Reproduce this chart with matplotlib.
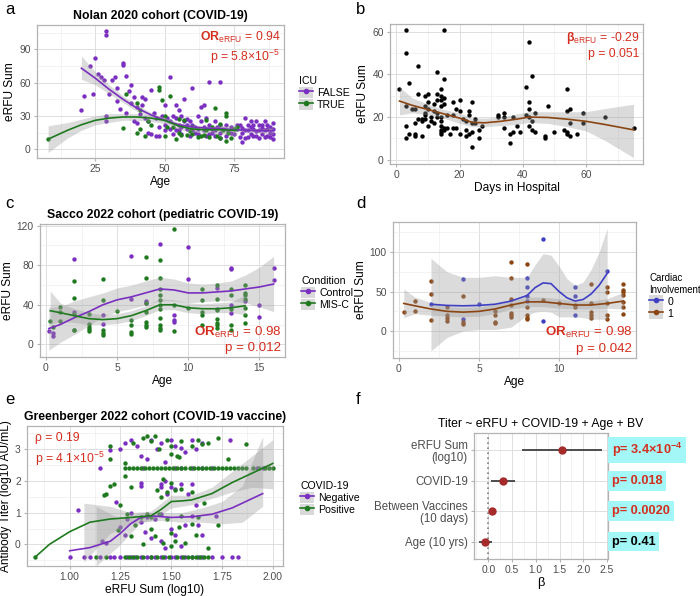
import numpy as np
import matplotlib
matplotlib.use("Agg")
from matplotlib import pyplot as plt
from matplotlib.lines import Line2D
from matplotlib.patches import Patch
from matplotlib.ticker import AutoMinorLocator

plt.rcParams['font.family'] = ['Liberation Sans', 'DejaVu Sans']
plt.rcParams['mathtext.fontset'] = 'custom'
plt.rcParams['mathtext.rm'] = 'Liberation Sans'
plt.rcParams['mathtext.it'] = 'Liberation Sans:italic'
plt.rcParams['mathtext.bf'] = 'Liberation Sans:bold'

PURPLE = "#7A2FC0"
GREEN = "#1F7A1F"
BROWN = "#8B4513"
BLUE = "#3F3FC4"
RED = "#D42E1F"

# ---- panel a: Nolan 2020 (age vs eRFU, ICU) ----
a_false_age = [20, 21, 23, 24, 25, 26, 27, 28, 29, 29, 29, 29, 30, 31, 32, 33, 33, 34, 35, 35, 36, 36, 37, 38, 38, 39, 39,
               40, 40, 41, 42, 42, 43, 43, 44, 44, 45, 46, 47, 47, 48, 49, 50, 50, 51, 52, 52, 53, 53, 54, 54, 55, 55, 55,
               56, 56, 57, 57, 58, 58, 59, 59, 60, 60, 61, 61, 62, 62, 63, 63, 64, 64, 65, 65, 66, 66, 67, 67, 68, 68, 69,
               70, 70, 70, 71, 72, 72, 73, 74, 75, 76, 77, 77, 78, 78, 79, 79, 80, 80, 81, 81, 82, 82, 83, 83, 84, 84, 85,
               85, 86, 86, 87, 87, 88, 88, 89, 89, 89, 89, 45, 48, 50, 52, 54, 56, 58, 60, 62, 64, 66, 68, 70, 74, 76, 78,
               80, 82, 84, 86, 88, 85, 87, 79, 81, 83]
a_false_erfu = [35, 48, 75, 50, 82, 68, 65, 62, 107, 103, 30, 25, 50, 62, 65, 55, 43, 36, 78, 76, 66, 33, 52, 58, 42, 47, 25,
                24, 38, 32, 40, 47, 45, 28, 25, 15, 53, 33, 12, 28, 12, 30, 40, 22, 28, 65, 18, 30, 14, 40, 28, 35, 22, 17,
                30, 20, 45, 25, 27, 18, 25, 12, 55, 22, 20, 15, 30, 18, 38, 25, 40, 20, 12, 28, 61, 22, 18, 15, 25, 12, 20,
                61, 22, 15, 18, 12, 22, 16, 20, 14, 18, 11, 22, 6, 15, 10, 28, 22, 17, 14, 20, 18, 12, 25, 16, 22, 10, 19,
                14, 25, 17, 22, 12, 15, 20, 9, 24, 14, 18, 14, 20, 17, 25, 17, 14, 22, 17, 14, 17, 14, 17, 10, 15, 22, 19,
                11, 22, 17, 11, 11, 22, 18, 17, 25, 12]
a_true_age = [8, 35, 36, 40, 40, 41, 41, 43, 44, 45, 48, 48, 49, 50, 50, 51, 52, 53, 54, 55, 56, 57, 58, 59, 60, 62, 63, 64,
              65, 66, 67, 68, 69, 70, 71, 72, 72, 72, 73, 74, 75, 76, 70, 65, 55, 60]
a_true_erfu = [9, 19, 50, 15, 42, 35, 18, 12, 25, 22, 56, 53, 44, 12, 30, 20, 48, 20, 9, 15, 13, 26, 13, 16, 20, 11, 12, 13,
               17, 11, 20, 37, 12, 10, 17, 30, 33, 7, 15, 10, 18, 20, 23, 26, 27, 14]
a_fit_false_x = [20, 25, 30, 35, 40, 45, 50, 55, 60, 65, 70, 75, 80, 85, 89]
a_fit_false_y = [73, 64, 54, 45, 37, 31, 26, 22, 20, 19, 18.5, 17.5, 17, 16.5, 16.5]
a_fit_false_lo = [63, 58, 50, 42, 34, 29, 24, 20.5, 18.5, 17.5, 17, 16, 15.5, 14.5, 13]
a_fit_false_hi = [84, 70, 58, 48, 40, 33, 28, 23.5, 21.5, 20.5, 20, 19, 18.5, 18.5, 20]
a_fit_true_x = [8, 15, 20, 25, 30, 35, 40, 45, 50, 55, 60, 65, 70, 76]
a_fit_true_y = [9, 17, 22, 26, 28, 29, 29, 28, 26, 21, 18, 17.5, 17.5, 17]
a_fit_true_lo = [-3, 10, 17, 22, 24, 26, 26, 25, 23, 18, 15, 14.5, 14, 12]
a_fit_true_hi = [21, 24, 27, 30, 32, 32, 32, 31, 29, 24, 21, 20.5, 21, 22]

# ---- panel b: days in hospital ----
b_days = [1, 3, 3, 3, 3, 3, 4, 4, 5, 6, 6, 6, 6, 7, 7, 7, 8, 8, 8, 9, 9, 9, 9, 9, 10, 10, 10, 10, 11, 11, 12, 12, 12,
          13, 13, 13, 13, 13, 14, 14, 14, 14, 14, 14, 14, 14, 14, 14, 15, 15, 15, 15, 15, 15, 16, 16, 17, 18, 18, 18,
          19, 19, 20, 20, 20, 21, 22, 22, 22, 23, 23, 23, 24, 24, 24, 24, 25, 25, 26, 26, 27, 32, 32, 34, 34, 34, 36,
          36, 37, 37, 38, 39, 41, 41, 42, 42, 42, 42, 42, 43, 43, 43, 44, 44, 47, 47, 48, 50, 53, 54, 54, 54, 54, 55,
          55, 55, 57, 59, 59, 66, 75]
b_erfu = [33, 61, 50, 25, 16, 10, 36, 12, 24, 24, 12, 11, 17, 44, 31, 19, 18, 11, 19, 30, 25, 22, 19, 21, 31, 27, 24,
          16, 18, 20, 23, 26, 17, 41, 31, 20, 28, 22, 33, 30, 28, 25, 20, 18, 16, 14, 12, 13, 61, 38, 29, 26, 15, 14,
          21, 15, 12, 27, 21, 15, 24, 15, 28, 23, 12, 19, 18, 14, 11, 23, 21, 12, 27, 17, 13, 6, 19, 17, 14, 10, 16,
          21, 20, 22, 15, 20, 8, 12, 13, 20, 16, 13, 34, 21, 55, 27, 24, 20, 16, 39, 18, 14, 13, 22, 11, 10, 25, 13,
          14, 33, 23, 13, 12, 24, 17, 11, 12, 22, 17, 20, 15]
b_fit_x = [1, 5, 10, 15, 20, 24, 28, 33, 38, 42, 48, 54, 60, 66, 75]
b_fit_y = [27.5, 25.5, 23.5, 21.5, 19.5, 17.5, 17.3, 18, 19, 20, 19.8, 19, 18, 16.5, 14]
b_fit_lo = [21, 22, 21, 19.5, 17, 15.5, 15.5, 16, 16.5, 17.5, 17, 15.5, 13.5, 9, 1]
b_fit_hi = [34, 29, 26, 23.5, 22, 19.5, 19.5, 20, 21.5, 22.5, 22.5, 22.5, 22.5, 24, 26]

# ---- panel c: Sacco 2022 ----
c_ctrl_age = [0.2, 0.5, 0.5, 2, 2, 4, 4, 6, 6, 7, 7, 8, 9, 9, 9, 10, 10, 12, 12, 13, 13, 13, 13, 14, 15, 15, 16, 16]
c_ctrl_erfu = [13, 11, 8, 86, 33, 30, 21, 89, 46, 42, 44, 101, 30, 25, 23, 98, 66, 57, 36, 77, 76, 40, 32, 44, 40, 28, 77, 65]
c_misc_age = [0.3, 0.5, 1, 1, 1, 2, 2, 2, 2, 2, 3, 3, 3, 3, 3, 4, 4, 4, 4, 4, 5, 6, 6, 6, 6, 7, 7, 7, 7, 7, 7, 7, 8, 8, 8,
              8, 8, 8, 8, 8, 8, 8, 8, 9, 9, 9, 10, 11, 11, 11, 11, 11, 12, 12, 12, 12, 12, 12, 12, 13, 13, 13, 13, 13,
              14, 14, 14, 14, 14, 14, 14]
c_misc_erfu = [24, 18, 38, 33, 24, 64, 47, 31, 15, 14, 31, 21, 18, 16, 13, 66, 45, 14, 11, 9, 34, 25, 20, 12, 10, 88, 67,
               42, 33, 23, 20, 18, 85, 67, 56, 50, 45, 40, 36, 27, 20, 17, 15, 117, 40, 13, 37, 56, 45, 33, 30, 20, 60,
               46, 35, 26, 22, 20, 17, 56, 50, 36, 20, 15, 60, 52, 50, 46, 37, 30, 22]
c_fit_ctrl_x = [0.2, 1, 2, 3, 4, 5, 6, 7, 8, 9, 10, 11, 12, 13, 14, 15, 16]
c_fit_ctrl_y = [16, 20, 27, 33, 40, 45, 48, 52, 56, 55, 52, 52, 53, 54, 56, 58, 61]
c_fit_ctrl_lo = [-6, 2, 10, 19, 28, 33, 36, 40, 44, 44, 42, 43, 44, 44, 42, 38, 33]
c_fit_ctrl_hi = [38, 38, 44, 48, 52, 57, 60, 64, 68, 66, 62, 61, 62, 64, 70, 78, 89]
c_fit_misc_x = [0.3, 1, 2, 3, 4, 5, 6, 7, 8, 9, 10, 11, 12, 13, 14]
c_fit_misc_y = [34, 32, 29, 26, 25, 26, 29, 34, 40, 40, 37, 36, 36, 37, 39]
c_fit_misc_lo = [20, 23, 22, 20, 20, 21, 24, 29, 35, 35, 32, 31, 32, 32, 30]
c_fit_misc_hi = [54, 42, 36, 32, 30, 31, 34, 39, 46, 45, 42, 41, 42, 43, 50]

# ---- panel d: cardiac involvement ----
d_no_age = [2, 4, 4, 5, 8, 8, 8, 8, 9, 9, 11, 11, 11, 13]
d_no_erfu = [34, 66, 15, 34, 67, 56, 44, 38, 117, 13, 56, 45, 20, 76]
d_yes_age = [0.3, 1, 1, 2, 2, 2, 3, 3, 3, 3, 4, 4, 4, 6, 6, 6, 6, 7, 7, 7, 7, 7, 7, 7, 8, 8, 8, 8, 8, 9, 10, 11, 11,
             12, 12, 12, 12, 12, 13, 13, 13, 13, 13, 14, 14, 14, 14, 14, 14, 14]
d_yes_erfu = [24, 38, 25, 64, 47, 14, 31, 21, 16, 13, 45, 12, 9, 25, 20, 12, 10, 88, 67, 40, 33, 23, 20, 18, 85, 30, 20,
              17, 15, 39, 36, 33, 30, 60, 36, 24, 20, 17, 56, 50, 36, 21, 15, 60, 52, 50, 46, 37, 30, 22]
d_fit_no_x = [2, 3, 4, 5, 6, 7, 8, 8.5, 9, 9.5, 10, 10.5, 11, 11.5, 12, 12.5, 13]
d_fit_no_y = [34, 32.5, 32, 32.5, 34, 38, 45, 55, 61, 60, 50, 42, 38, 40, 47, 58, 73]
d_fit_no_lo = [-25, -8, 0, 2, 2, 5, 20, 24, 25, 24, 18, 18, 18, 17, 15, 15, 15]
d_fit_no_hi = [92, 75, 68, 68, 70, 68, 68, 84, 98, 96, 82, 66, 58, 62, 78, 100, 130]
d_fit_yes_x = [0.3, 1, 2, 3, 4, 5, 6, 7, 8, 9, 10, 11, 12, 13, 14]
d_fit_yes_y = [35, 32, 28, 25, 24, 25, 28, 33, 37, 37, 35, 33, 33, 35, 38]
d_fit_yes_lo = [17, 22, 20, 19, 18, 19, 22, 28, 31, 31, 29, 28, 28, 29, 28]
d_fit_yes_hi = [53, 43, 36, 31, 30, 31, 34, 38, 43, 43, 41, 38, 38, 41, 49]

# ---- panel e: Greenberger 2022 ----
e_neg_x = [1.0, 1.07, 1.1, 1.15, 1.2, 1.22, 1.25, 1.28, 1.3, 1.32, 1.35, 1.38, 1.4, 1.42, 1.45, 1.47, 1.5, 1.52, 1.55,
           1.57, 1.6, 1.63, 1.65, 1.7, 1.75, 1.8, 1.83,
           1.15, 1.36, 1.52, 1.55, 1.6, 1.65, 1.7, 1.92, 1.95,
           1.2, 1.25, 1.27, 1.3, 1.33, 1.35, 1.38, 1.4, 1.43, 1.45, 1.47, 1.5, 1.52, 1.55, 1.57, 1.6, 1.62, 1.65, 1.79,
           1.35, 1.35, 1.45, 1.45, 1.47, 1.48, 1.5, 1.52, 1.55, 1.23, 1.58, 1.6, 1.62,
           1.04, 1.16, 1.18, 1.25, 1.28, 1.3, 1.35, 1.37, 1.4, 1.42, 1.45, 1.47, 1.5, 1.52, 1.55, 1.57, 1.6, 1.63, 1.65,
           1.72, 1.27, 1.45, 1.38]
e_neg_y = [-0.4] * 27 + [2.4] * 9 + \
          [2.97, 3.0, 3.2, 3.3, 3.1, 2.8, 2.7, 3.3, 3.0, 3.2, 2.6, 3.3, 3.1, 3.05, 2.9, 3.3, 3.0, 3.2, 3.3,
           1.85, 1.95, 1.8, 1.9, 2.0, 1.6, 1.8, 1.75, 1.9, 1.35, 1.6, 1.9, 1.25,
           1.07, 0.12, 0.06, 0.55, 0.8, 1.0, 0.7, 0.4, 0.2, 0.8, 0.1, -0.1, 0.5, 0.3, -0.05, 0.6, 0.9, 0.6, 0.3,
           0.9, 0.3, 0.95, 0.85]
e_pos_x = [0.83, 1.13, 1.18, 1.27, 1.29, 1.31, 1.33, 1.36, 1.4, 1.43, 1.46, 1.49, 1.53, 1.56, 1.58, 1.6, 1.62, 1.64,
           1.66, 1.68,
           1.27, 1.29, 1.31, 1.33, 1.35, 1.37, 1.39, 1.41, 1.43, 1.45, 1.47, 1.49, 1.51, 1.53, 1.55, 1.57, 1.59, 1.61,
           1.63, 1.65, 1.67, 1.69, 1.71, 1.73, 1.75, 1.77, 1.79, 1.81, 1.83, 1.85, 1.87, 1.9, 1.93, 1.96, 1.98, 2.0,
           1.2, 1.2, 1.27, 1.31, 1.36, 1.38, 1.4, 1.42, 1.44, 1.48, 1.5, 1.53, 1.55, 1.6, 1.63, 1.65, 1.68, 1.73, 1.78,
           1.87, 1.54, 1.5,
           1.18, 1.2, 1.22, 1.25, 1.27, 1.3, 1.43, 1.45, 1.46, 1.48, 1.5, 1.52, 1.55, 1.6, 1.66, 1.17,
           1.24, 1.28, 1.32, 1.35, 1.38, 1.4, 1.42, 1.44, 1.46, 1.48, 1.5, 1.52, 1.54, 1.57, 1.6, 1.62, 1.63, 1.68,
           1.73, 1.3, 1.36, 1.5, 1.55, 1.4]
e_pos_y = [-0.4] * 20 + [2.4] * 36 + \
          [3.1, 2.7, 2.55, 3.2, 3.35, 3.4, 3.25, 3.4, 3.0, 3.3, 3.1, 2.8, 3.25, 3.1, 3.3, 3.15, 3.2, 3.35, 2.7,
           3.15, 2.75, 2.85,
           1.6, 1.85, 1.9, 1.25, 2.15, 1.8, 1.7, 1.5, 2.05, 1.65, 1.95, 1.7, 1.75, 1.65, 1.3, 1.55,
           0.45, 0.95, 0.6, 0.85, 0.95, 0.5, 0.25, 0.95, 0.05, 0.8, 0.35, 0.1, 0.55, 0.05, 0.65, 0.3, 0.85, -0.1,
           0.6, 0.25, 0.0, -0.05, 0.9, 0.85]
e_fit_pos_x = [0.83, 0.9, 1.0, 1.1, 1.2, 1.3, 1.4, 1.45, 1.5, 1.55, 1.6, 1.7, 1.8, 1.9, 2.0]
e_fit_pos_y = [-0.4, 0.0, 0.4, 0.7, 0.8, 0.85, 0.9, 1.1, 1.35, 1.37, 1.4, 1.6, 1.95, 2.25, 2.55]
e_band_pos_x = [1.07, 1.2, 1.3, 1.4, 1.5, 1.6, 1.7, 1.8, 1.9, 2.0]
e_band_pos_lo = [-0.55, 0.35, 0.65, 0.75, 1.15, 1.25, 1.45, 1.65, 1.8, 1.75]
e_band_pos_hi = [1.3, 1.2, 1.0, 1.05, 1.55, 1.55, 1.8, 2.3, 2.8, 3.3]
e_fit_neg_x = [1.0, 1.1, 1.2, 1.25, 1.3, 1.35, 1.4, 1.5, 1.6, 1.7, 1.8, 1.9, 1.95]
e_fit_neg_y = [-0.2, -0.1, 0.1, 0.35, 0.65, 0.85, 0.9, 0.85, 0.87, 0.95, 1.15, 1.45, 1.6]
e_band_neg_x = [1.13, 1.25, 1.35, 1.45, 1.55, 1.65, 1.75, 1.85, 1.95]
e_band_neg_lo = [-0.68, 0.0, 0.7, 0.75, 0.7, 0.7, 0.65, 0.7, 1.2]
e_band_neg_hi = [1.2, 0.8, 1.0, 1.0, 1.0, 1.15, 1.35, 1.85, 3.4]

# ---- panel f: regression coefficients ----
f_terms = ["Age (10 yrs)", "Between Vaccines\n(10 days)", "COVID-19", "eRFU Sum\n(log10)"]
f_beta = [-0.07, 0.07, 0.32, 1.55]
f_lo = [-0.2, 0.04, 0.05, 0.72]
f_hi = [0.08, 0.1, 0.57, 2.4]
f_pvals = [r"p= 0.41", r"p= 0.0020", r"p= 0.018", r"p= 3.4×10$^{\mathbf{-4}}$"]
f_pcolors = ["black", RED, RED, RED]

W, H = 700, 596
TICK = 7.4
LAB = 8.6
TITLE = 8.8
ANN = 8.8
ANN_BIG = 9.6
LEG = 7.6

fig = plt.figure(figsize=(7, 5.96), dpi=100)


def add_ax(x0, y0, x1, y1):
    return fig.add_axes([x0 / W, 1 - y1 / H, (x1 - x0) / W, (y1 - y0) / H])


def style(ax):
    ax.set_facecolor("white")
    for s in ax.spines.values():
        s.set_color("#B3B3B3")
        s.set_linewidth(0.9)
    ax.xaxis.set_minor_locator(AutoMinorLocator(2))
    ax.yaxis.set_minor_locator(AutoMinorLocator(2))
    ax.grid(which="major", color="#DEDEDE", linewidth=0.7)
    ax.grid(which="minor", color="#EEEEEE", linewidth=0.5)
    ax.set_axisbelow(True)
    ax.tick_params(which="major", length=2.5, color="#B3B3B3", labelsize=TICK, labelcolor="#4D4D4D", pad=2)
    ax.tick_params(which="minor", length=0)


def band(ax, x, lo, hi):
    ax.fill_between(x, lo, hi, color="#999999", alpha=0.35, linewidth=0, zorder=3)


def legend(title, labels, colors, x, y, title_size=LEG):
    handles = [(Patch(facecolor="#D9D9D9", edgecolor="none"),
                Line2D([], [], color=c, lw=1.2, marker="o", ms=3)) for c in colors]
    leg = fig.legend(handles, labels, title=title, loc="upper left", bbox_to_anchor=(x / W, 1 - y / H),
                     frameon=False, fontsize=LEG, title_fontsize=title_size, handlelength=1.3, handleheight=1.3,
                     labelspacing=0.05, borderpad=0, handletextpad=0.4, alignment="left")
    return leg


# panel a
ax = add_ax(37, 25, 284, 158)
style(ax)
ax.scatter(a_false_age, a_false_erfu, s=10, color=PURPLE, lw=0, zorder=2)
ax.scatter(a_true_age, a_true_erfu, s=10, color=GREEN, lw=0, zorder=2)
band(ax, a_fit_false_x, a_fit_false_lo, a_fit_false_hi)
band(ax, a_fit_true_x, a_fit_true_lo, a_fit_true_hi)
ax.plot(a_fit_false_x, a_fit_false_y, color=PURPLE, lw=1.2, zorder=4)
ax.plot(a_fit_true_x, a_fit_true_y, color=GREEN, lw=1.2, zorder=4)
ax.set_xlim(4, 93)
ax.set_ylim(-8, 112)
ax.set_xticks([25, 50, 75])
ax.set_yticks([0, 30, 60, 90])
ax.set_xlabel("Age", fontsize=LAB, labelpad=1)
ax.set_ylabel("eRFU Sum", fontsize=LAB, labelpad=2)
ax.set_title("Nolan 2020 cohort (COVID-19)", fontsize=TITLE, fontweight="bold", pad=4)
ax.text(0.985, 0.96, r"$\mathbf{OR}_{\mathrm{eRFU}}$ = 0.94", transform=ax.transAxes, ha="right", va="top",
        color=RED, fontsize=ANN)
ax.text(0.985, 0.83, r"p = 5.8×10$^{-5}$", transform=ax.transAxes, ha="right", va="top", color=RED, fontsize=ANN)
legend("ICU", ["FALSE", "TRUE"], [PURPLE, GREEN], 294, 71)

# panel b
ax = add_ax(390, 24, 643, 164)
style(ax)
ax.scatter(b_days, b_erfu, s=10, color="black", lw=0, zorder=2)
band(ax, b_fit_x, b_fit_lo, b_fit_hi)
ax.plot(b_fit_x, b_fit_y, color=BROWN, lw=1.2, zorder=4)
ax.set_xlim(-2, 78)
ax.set_ylim(-2, 63.6)
ax.set_xticks([0, 20, 40, 60])
ax.set_yticks([0, 20, 40, 60])
ax.set_xlabel("Days in Hospital", fontsize=LAB, labelpad=1)
ax.set_ylabel("eRFU Sum", fontsize=LAB, labelpad=2)
ax.text(0.985, 0.96, r"$\mathbf{β}_{\mathrm{eRFU}}$ = -0.29", transform=ax.transAxes, ha="right", va="top",
        color=RED, fontsize=ANN)
ax.text(0.985, 0.83, "p = 0.051", transform=ax.transAxes, ha="right", va="top", color=RED, fontsize=ANN)

# panel c
ax = add_ax(40, 224, 285, 357)
style(ax)
ax.scatter(c_ctrl_age, c_ctrl_erfu, s=10, color=PURPLE, lw=0, zorder=2)
ax.scatter(c_misc_age, c_misc_erfu, s=10, color=GREEN, lw=0, zorder=2)
band(ax, c_fit_ctrl_x, c_fit_ctrl_lo, c_fit_ctrl_hi)
band(ax, c_fit_misc_x, c_fit_misc_lo, c_fit_misc_hi)
ax.plot(c_fit_ctrl_x, c_fit_ctrl_y, color=PURPLE, lw=1.2, zorder=4)
ax.plot(c_fit_misc_x, c_fit_misc_y, color=GREEN, lw=1.2, zorder=4)
ax.set_xlim(-0.42, 16.8)
ax.set_ylim(-12.8, 121.7)
ax.set_xticks([0, 5, 10, 15])
ax.set_yticks([0, 40, 80, 120])
ax.set_xlabel("Age", fontsize=LAB, labelpad=1)
ax.set_ylabel("eRFU Sum", fontsize=LAB, labelpad=2)
ax.set_title("Sacco 2022 cohort (pediatric COVID-19)", fontsize=TITLE, fontweight="bold", pad=4)
ax.text(0.985, 0.24, r"$\mathbf{OR}_{\mathrm{eRFU}}$ = 0.98", transform=ax.transAxes, ha="right", va="top",
        color=RED, fontsize=ANN_BIG)
ax.text(0.985, 0.11, "p = 0.012", transform=ax.transAxes, ha="right", va="top", color=RED, fontsize=ANN_BIG)
legend("Condition", ["Control", "MIS-C"], [PURPLE, GREEN], 296, 271)

# panel d
ax = add_ax(393, 222, 636, 358)
style(ax)
ax.scatter(d_no_age, d_no_erfu, s=10, color=BLUE, lw=0, zorder=2)
ax.scatter(d_yes_age, d_yes_erfu, s=10, color=BROWN, lw=0, zorder=2)
band(ax, d_fit_no_x, d_fit_no_lo, d_fit_no_hi)
band(ax, d_fit_yes_x, d_fit_yes_lo, d_fit_yes_hi)
ax.plot(d_fit_no_x, d_fit_no_y, color=BLUE, lw=1.2, zorder=4)
ax.plot(d_fit_yes_x, d_fit_yes_y, color=BROWN, lw=1.2, zorder=4)
ax.set_xlim(-0.37, 14.8)
ax.set_ylim(-34, 138)
ax.set_xticks([0, 5, 10])
ax.set_yticks([0, 50, 100])
ax.set_xlabel("Age", fontsize=LAB, labelpad=1)
ax.set_ylabel("eRFU Sum", fontsize=LAB, labelpad=2)
ax.text(0.985, 0.24, r"$\mathbf{OR}_{\mathrm{eRFU}}$ = 0.98", transform=ax.transAxes, ha="right", va="top",
        color=RED, fontsize=ANN_BIG)
ax.text(0.985, 0.11, "p = 0.042", transform=ax.transAxes, ha="right", va="top", color=RED, fontsize=ANN_BIG)
legend("Cardiac\nInvolvement", ["0", "1"], [BLUE, BROWN], 644, 268, title_size=6.9)

# panel e
ax = add_ax(27, 426, 283, 566)
style(ax)
ax.scatter(e_neg_x, e_neg_y, s=10, color=PURPLE, lw=0, zorder=2)
ax.scatter(e_pos_x, e_pos_y, s=10, color=GREEN, lw=0, zorder=2)
band(ax, e_band_neg_x, e_band_neg_lo, e_band_neg_hi)
band(ax, e_band_pos_x, e_band_pos_lo, e_band_pos_hi)
ax.plot(e_fit_neg_x, e_fit_neg_y, color=PURPLE, lw=1.2, zorder=4)
ax.plot(e_fit_pos_x, e_fit_pos_y, color=GREEN, lw=1.2, zorder=4)
ax.set_xlim(0.79, 2.05)
ax.set_ylim(-0.68, 3.73)
ax.set_xticks([1.0, 1.25, 1.5, 1.75, 2.0])
ax.set_xticklabels(["1.00", "1.25", "1.50", "1.75", "2.00"])
ax.set_yticks([0, 1, 2, 3])
ax.set_xlabel("eRFU Sum (log10)", fontsize=LAB, labelpad=1)
ax.set_ylabel("Antibody Titer (log10 AU/mL)", fontsize=LAB, labelpad=2)
ax.set_title("Greenberger 2022 cohort (COVID-19 vaccine)", fontsize=TITLE, fontweight="bold", pad=4)
ax.text(0.03, 0.96, "ρ = 0.19", transform=ax.transAxes, ha="left", va="top", color=RED, fontsize=ANN)
ax.text(0.03, 0.83, r"p = 4.1×10$^{-5}$", transform=ax.transAxes, ha="left", va="top", color=RED, fontsize=ANN)
legend("COVID-19", ["Negative", "Positive"], [PURPLE, GREEN], 295, 476)

# panel f
ax = add_ax(474, 433, 608, 559)
style(ax)
ax.yaxis.set_minor_locator(plt.NullLocator())
ypos = np.arange(1, len(f_terms) + 1)
ax.axvline(0, color="#808080", lw=1.2, ls=(0, (1, 2)), zorder=2)
ax.hlines(ypos, f_lo, f_hi, color="#404040", lw=1.3, zorder=3)
ax.plot(f_beta, ypos, "o", color="#A52A2A", ms=5, zorder=4)
ax.set_xlim(-0.3, 2.52)
ax.set_ylim(0.43, 4.57)
ax.set_xticks([0, 0.5, 1.0, 1.5, 2.0, 2.5])
ax.set_xticklabels(["0.0", "0.5", "1.0", "1.5", "2.0", "2.5"])
ax.set_yticks(ypos)
ax.set_yticklabels(f_terms, fontsize=LAB - 0.3, linespacing=1.0)
ax.set_xlabel("β", fontsize=LAB + 0.6, labelpad=1)
ax.set_title("Titer ~ eRFU + COVID-19 + Age + BV", fontsize=TITLE, pad=4)
for yv, txt, col in zip(ypos, f_pvals, f_pcolors):
    ax.text(1.03, yv, txt, transform=ax.get_yaxis_transform(), ha="left", va="center", color=col,
            fontsize=9.2, fontweight="bold", clip_on=False,
            bbox=dict(boxstyle="square,pad=0.3", facecolor="#A3F7F7", edgecolor="none"))

# panel letters
for lab, x, y in [("a", 5, 10), ("b", 356, 10), ("c", 5, 203), ("d", 356, 203), ("e", 5, 399), ("f", 356, 399)]:
    fig.text(x / W, 1 - y / H, lab, fontsize=12, va="center", ha="left")

fig.savefig("out.png", dpi=100)
